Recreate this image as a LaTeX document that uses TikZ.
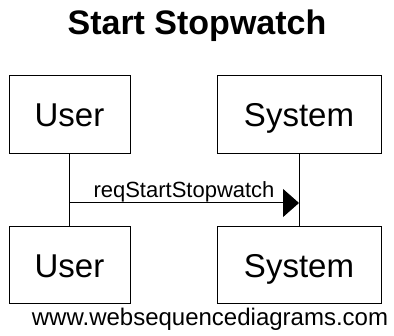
\documentclass[tikz,border=0pt]{standalone}
\usepackage{fontspec}
\setmainfont{Liberation Sans}
\usetikzlibrary{arrows.meta}
\begin{document}
\begin{tikzpicture}[x=1pt,y=1pt,
  actor/.style={draw=black, line width=1pt, fill=white, inner sep=0pt, minimum height=78pt, text height=24pt, text depth=0pt, font=\fontsize{33}{36}\selectfont},
  lifeline/.style={draw=black, line width=1pt},
  msg/.style={draw=black, line width=1pt, -{Triangle[length=16pt,width=28pt]}}]
\useasboundingbox (0,0) rectangle (394,336);
\node[font=\bfseries\fontsize{34}{38}\selectfont, anchor=base] (title) at (197,301) {Start Stopwatch};
\node[actor, minimum width=121pt] (utop) at (69.5,221) {User};
\node[actor, minimum width=164pt] (stop) at (299,221) {System};
\node[actor, minimum width=121pt, minimum height=77pt] (ubot) at (69.5,70.5) {User};
\node[actor, minimum width=164pt, minimum height=77pt] (sbot) at (299,70.5) {System};
\draw[lifeline] (utop.south) -- (ubot.north);
\draw[lifeline] (stop.south) -- (sbot.north);
\coordinate (a1) at (utop.south |- 0,133);
\coordinate (a2) at (stop.south |- 0,133);
\draw[msg] (a1) -- (a2);
\node[font=\fontsize{22}{24}\selectfont, anchor=base] (lbl) at (184,138) {reqStartStopwatch};
\node[font=\fontsize{24}{26}\selectfont, anchor=base] (foot) at (210,10) {www.websequencediagrams.com};
\end{tikzpicture}
\end{document}
